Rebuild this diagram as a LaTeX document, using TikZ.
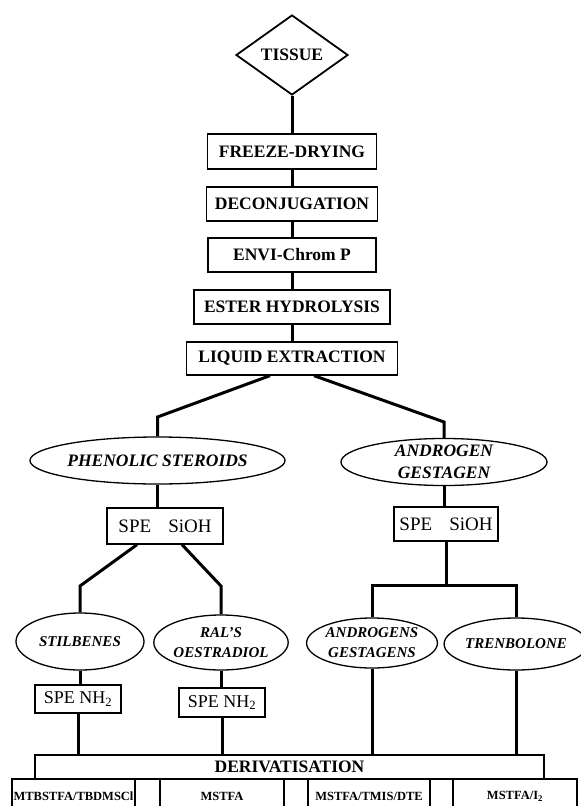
\documentclass[tikz,border=0pt]{standalone}
\usepackage{fontspec}
\setmainfont{Liberation Serif}
\usetikzlibrary{shapes.geometric}

\begin{document}
\begin{tikzpicture}[x=1pt, y=-1pt,
    stepbox/.style={draw, line width=1.3pt, inner sep=0pt,
        font=\fontsize{17.5}{20}\selectfont\bfseries},
    spebox/.style={draw, line width=1.3pt, inner sep=0pt,
        font=\fontsize{19}{21}\selectfont},
    group/.style={draw, ellipse, line width=1.3pt, inner sep=0pt, align=center,
        font=\fontsize{17.5}{21.5}\selectfont\bfseries\itshape},
    subgroup/.style={group, font=\fontsize{15}{20}\selectfont\bfseries\itshape},
    reagent/.style={draw, line width=1.3pt, inner sep=0pt, minimum height=34pt,
        font=\fontsize{12.5}{14}\selectfont\bfseries},
    link/.style={line width=3pt}]

    \clip (0,0) rectangle (581,806);

    % --- Sample and clean-up steps ---
    \node[draw, diamond, aspect=1.4, line width=1.8pt, inner sep=0pt,
          minimum width=112pt, minimum height=80pt,
          font=\fontsize{17.5}{20}\selectfont\bfseries] (tissue) at (292,55) {TISSUE};

    \node[stepbox, minimum width=169pt, minimum height=35pt] (freeze) at (292,151.5) {FREEZE-DRYING};
    \node[stepbox, minimum width=171pt, minimum height=34pt] (deconj) at (292,204) {DECONJUGATION};
    \node[stepbox, minimum width=168pt, minimum height=34pt] (envi)   at (292,255) {ENVI-Chrom P};
    \node[stepbox, minimum width=196pt, minimum height=34pt] (ester)  at (292,307) {ESTER HYDROLYSIS};
    \node[stepbox, minimum width=211pt, minimum height=33pt] (liquid) at (292,358.5) {LIQUID EXTRACTION};

    \draw[link] (tissue.south) -- (freeze.north);
    \draw[link] (freeze.south) -- (deconj.north);
    \draw[link] (deconj.south) -- (envi.north);
    \draw[link] (envi.south)   -- (ester.north);
    \draw[link] (ester.south)  -- (liquid.north);

    % --- Two fractions ---
    \node[group, minimum width=209pt, minimum height=47pt] (phenolic) at (157.5,460.5) {PHENOLIC STEROIDS};
    \node[group, minimum width=206pt, minimum height=46pt] (androgen) at (444,462) {ANDROGEN\\GESTAGEN};

    \draw[link] ([xshift=-22pt]liquid.south) -- (phenolic.north |- 0,417) -- (phenolic.north);
    \draw[link] ([xshift=22pt]liquid.south) -- (androgen.north |- 0,422) -- (androgen.north);

    \node[spebox, minimum width=116pt, minimum height=36pt] (spel) at (165,526) {SPE\hspace{0.9em}SiOH};
    \node[spebox, minimum width=104pt, minimum height=34pt] (sper) at (446,524) {SPE\hspace{0.9em}SiOH};

    \draw[link] (phenolic.south) -- (phenolic.south |- spel.north);
    \draw[link] (androgen.south) -- (androgen.south |- sper.north);

    % --- Left branch ---
    \node[subgroup, minimum width=128pt, minimum height=57pt] (stilb) at (80,641.5) {STILBENES};
    \node[subgroup, minimum width=119pt, minimum height=55pt] (ral)   at (221,642.5) {RAL'S\\OESTRADIOL};

    \draw[link] ([xshift=-28pt]spel.south) -- (stilb.north |- 0,586) -- (stilb.north);
    \draw[link] ([xshift=17pt]spel.south) -- (ral.north |- 0,586) -- (ral.north);

    \node[spebox, minimum width=86pt, minimum height=28pt, font=\fontsize{18}{20}\selectfont] (nhl) at (78,699) {SPE NH\textsubscript{2}};
    \node[spebox, minimum width=86pt, minimum height=29pt, font=\fontsize{18}{20}\selectfont] (nhr) at (222,702.5) {SPE NH\textsubscript{2}};

    % --- Right branch ---
    \node[subgroup, minimum width=130pt, minimum height=50pt] (andges) at (372,643) {ANDROGENS\\GESTAGENS};
    \node[subgroup, minimum width=126pt, minimum height=52pt] (tren)   at (516,644) {TRENBOLONE};

    \draw[link] (sper.south) -- (sper.south |- 0,585);
    \draw[link] (andges.north) -- (andges.north |- 0,585) -- (tren.north |- 0,585) -- (tren.north);

    % --- Derivatisation ---
    \node[stepbox, minimum width=509pt, minimum height=24pt] (deriv) at (289.5,767) {DERIVATISATION};

    \draw[link] (stilb.south) -- (stilb.south |- nhl.north);
    \draw[link] (nhl.south) -- (nhl.south |- deriv.north);
    \draw[link] (ral.south) -- (ral.south |- nhr.north);
    \draw[link] (nhr.south) -- (nhr.south |- deriv.north);
    \draw[link] (andges.south) -- (andges.south |- deriv.north);
    \draw[link] (tren.south) -- (tren.south |- deriv.north);

    \node[reagent, minimum width=123pt] (mtb)   at (73.5,796) {MTBSTFA/TBDMSCl};
    \node[reagent, minimum width=124pt] (mstfa) at (222,796)  {MSTFA};
    \node[reagent, minimum width=122pt] (tmis)  at (369,796)  {MSTFA/TMIS/DTE};
    \node[reagent, minimum width=124pt] (iod)   at (515,796)  {MSTFA/I\textsubscript{2}};

\end{tikzpicture}
\end{document}
